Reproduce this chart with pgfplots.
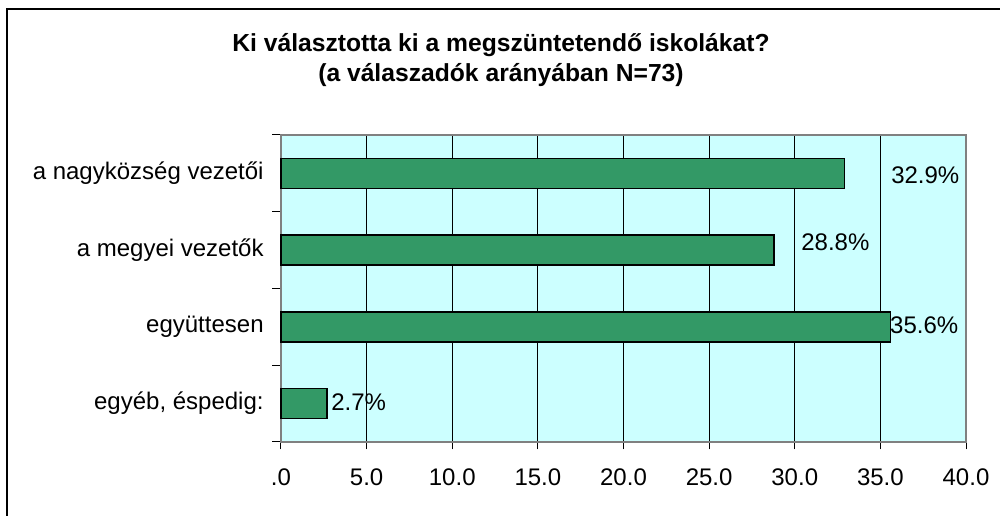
\documentclass[border=0pt]{standalone}
\usepackage{pgfplots}
\pgfplotsset{compat=1.18}
\usepackage{fontspec}
\setmainfont{Liberation Sans}
\definecolor{bgc}{HTML}{CCFFFF}
\definecolor{barc}{HTML}{339966}
\begin{document}
\begin{tikzpicture}[x=0.75pt,y=0.75pt]
\useasboundingbox (0,0) rectangle (1000,516);
\draw[line width=1.2pt] (7,-5) -- (7,507) -- (1005,507);
\node[font=\fontsize{18.5}{22}\selectfont\bfseries, align=center] at (501,456) {Ki választotta ki a megszüntetendő iskolákat?\\[1pt](a válaszadók arányában N=73)};
\coordinate (A) at (281,74);
\begin{axis}[
  at={(A)}, anchor=south west,
  scale only axis, width=513.75pt, height=230.25pt,
  xmin=0, xmax=40, ymin=-0.5, ymax=3.5,
  xtick={0,5,...,40},
  xticklabels={.0,5.0,10.0,15.0,20.0,25.0,30.0,35.0,40.0},
  ytick={0,1,2,3},
  yticklabels={{egyéb, éspedig:},{együttesen},{a megyei vezetők},{a nagyközség vezetői}},
  minor ytick={-0.5,0.5,1.5,2.5,3.5},
  tick pos=left,
  tick align=outside,
  major tick length=5.5pt,
  minor tick length=6.5pt,
  y tick style={draw=none},
  minor y tick style={draw=black, line width=0.75pt},
  x tick style={draw=black, line width=0.75pt},
  xmajorgrids,
  grid style={draw=black, line width=0.75pt},
  axis background/.style={fill=bgc},
  axis line style={draw=gray, line width=1.5pt},
  tick label style={font=\fontsize{18}{21}\selectfont},
  yticklabel style={xshift=-4pt},
  xticklabel style={yshift=-11pt},
  xbar, bar width=0.39,
  clip=false,
]
\addplot[fill=barc, draw=black, line width=1.2pt] coordinates {(32.9,3) (28.8,2) (35.6,1) (2.7,0)};
\begin{scope}[every node/.style={anchor=west, inner sep=0pt, font=\fontsize{18}{21}\selectfont}]
\node at (axis cs:35.62,2.98) {32.9\%};
\node at (axis cs:30.37,2.1) {28.8\%};
\node at (axis cs:35.56,1.02) {35.6\%};
\node at (axis cs:2.92,0.02) {2.7\%};
\end{scope}
\end{axis}
\end{tikzpicture}
\end{document}
